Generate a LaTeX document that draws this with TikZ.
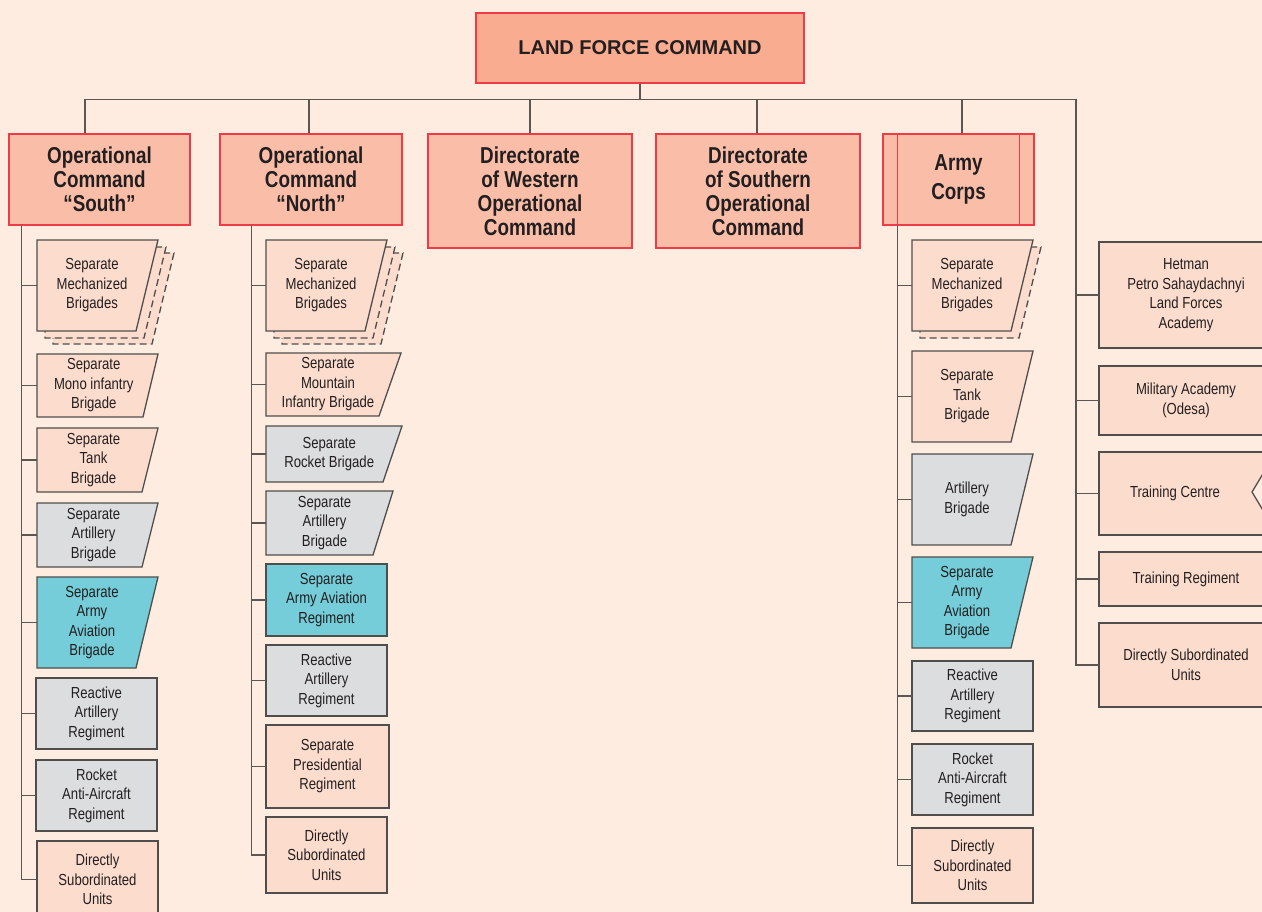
\documentclass[tikz,border=0pt]{standalone}
\usepackage{fontspec}
\setmainfont{Liberation Sans}[FakeStretch=0.82]
\newfontfamily\titlefont{Liberation Sans}
\usepackage{tikz}
\usetikzlibrary{arrows.meta,positioning}
\usepackage{xcolor}
\definecolor{PaperBg}{RGB}{253,236,223}
\definecolor{TopFill}{RGB}{249,172,144}
\definecolor{CmdFill}{RGB}{250,190,168}
\definecolor{CmdRed}{RGB}{238,59,69}
\definecolor{PinkFill}{RGB}{252,220,205}
\definecolor{GreyFill}{RGB}{220,221,223}
\definecolor{CyanFill}{RGB}{116,205,216}
\definecolor{BoxLine}{RGB}{80,78,76}
\definecolor{LinkGrey}{RGB}{90,86,82}
\definecolor{InkGrey}{RGB}{35,31,32}

% unit box: name, fill, left x, top y, top-right x, bottom y, bottom-right x, text
\newcommand\unitbox[8]{%
  \filldraw[unit,fill=#2] (#3,#4) -- (#5,#4) -- (#7,#6) -- (#3,#6) -- cycle;
  \node[txt,minimum width={(#5+#7)/2-#3},minimum height={#6-#4}] (#1) at ({(#3+(#5+#7)/2)/2},{(#4+#6)/2}) {#8};}

\begin{document}
\begin{tikzpicture}[x=1pt,y=-1pt,cmd/.style={rectangle,draw=CmdRed,line width=1.3pt,fill=CmdFill,text=InkGrey,align=center,inner sep=0pt,font=\bfseries\fontsize{23}{24}\selectfont},unit/.style={draw=BoxLine,line width=1.3pt},txt/.style={rectangle,inner sep=0pt,align=center,text=InkGrey,font=\fontsize{16}{19.5}\selectfont},link/.style={draw=LinkGrey,line width=1.2pt},stack/.style={unit,dash pattern=on 7pt off 4pt,fill=PinkFill}]
\useasboundingbox (0,0) rectangle (1262,912);
\clip (0,0) rectangle (1262,912);
\fill[PaperBg] (0,0) rectangle (1262,912);

% command level
\node[cmd,fill=TopFill,minimum width=328,minimum height=70,font=\titlefont\bfseries\fontsize{20}{24}\selectfont](lfc) at (640,48){LAND FORCE COMMAND};
\node[cmd,minimum width=181,minimum height=91](os) at (99.5,179.5){Operational\\Command\\“South”};
\node[cmd,minimum width=182,minimum height=91](on) at (311,179.5){Operational\\Command\\“North”};
\node[cmd,minimum width=204,minimum height=114](dw) at (530,191){Directorate\\of Western\\Operational\\Command};
\node[cmd,minimum width=204,minimum height=114](ds) at (758,191){Directorate\\of Southern\\Operational\\Command};
\node[cmd,minimum width=151,minimum height=91,font=\bfseries\fontsize{23}{29}\selectfont](ac) at (958.5,179.5){Army\\Corps};
\draw[CmdRed,line width=1.3pt]([xshift=15]ac.north west)--([xshift=15]ac.south west)([xshift=-15]ac.north east)--([xshift=-15]ac.south east);

\coordinate (rt) at (1076,99);
\draw[link](lfc.south)--++(0,16)-|(rt);
\foreach \n/\s in {os/-14.5,on/-2,dw/0,ds/-1,ac/3.5}{\draw[link](lfc.south)--++(0,16)-|([xshift=\s]\n.north);}

% operational command south
\foreach \d/\e in {16/13,8/7}{\filldraw[stack,shift={(\d,\e)}](37,240)--(158,240)--(136,331)--(37,331)--cycle;}
\unitbox{s1}{PinkFill}{37}{240}{158}{331}{136}{Separate\\Mechanized\\Brigades}
\unitbox{s2}{PinkFill}{37}{354}{158}{417}{143}{Separate\\Mono infantry\\Brigade}
\unitbox{s3}{PinkFill}{37}{428}{158}{492}{142}{Separate\\Tank\\Brigade}
\unitbox{s4}{GreyFill}{37}{503}{158}{567}{142}{Separate\\Artillery\\Brigade}
\unitbox{s5}{CyanFill}{37}{577}{158}{668}{136}{Separate\\Army\\Aviation\\Brigade}
\unitbox{s6}{GreyFill}{36}{678}{157}{749}{157}{Reactive\\Artillery\\Regiment}
\unitbox{s7}{GreyFill}{36}{760}{157}{831}{157}{Rocket\\Anti-Aircraft\\Regiment}
\unitbox{s8}{PinkFill}{37}{841}{158}{918}{158}{Directly\\Subordinated\\Units}
\foreach \n in {s1,s2,s3,s4,s5,s6,s7,s8}{\draw[link]([xshift=13]os.south west)|-(\n.west);}

% operational command north
\foreach \d/\e in {16/13,8/7}{\filldraw[stack,shift={(\d,\e)}](266,240)--(387,240)--(365,331)--(266,331)--cycle;}
\unitbox{n1}{PinkFill}{266}{240}{387}{331}{365}{Separate\\Mechanized\\Brigades}
\unitbox{n2}{PinkFill}{266}{353}{401}{416}{379}{Separate\\Mountain\\Infantry Brigade}
\unitbox{n3}{GreyFill}{266}{426}{402}{482}{383}{Separate\\Rocket Brigade}
\unitbox{n4}{GreyFill}{266}{491}{393}{555}{373}{Separate\\Artillery\\Brigade}
\unitbox{n5}{CyanFill}{266}{564}{387}{636}{387}{Separate\\Army Aviation\\Regiment}
\unitbox{n6}{GreyFill}{266}{645}{387}{716}{387}{Reactive\\Artillery\\Regiment}
\unitbox{n7}{PinkFill}{266}{725}{389}{808}{389}{Separate\\Presidential\\Regiment}
\unitbox{n8}{PinkFill}{266}{817}{387}{893}{387}{Directly\\Subordinated\\Units}
\foreach \n in {n1,n2,n3,n4,n5,n6,n7,n8}{\draw[link]([xshift=32]on.south west)|-(\n.west);}

% army corps
\filldraw[stack,shift={(8,7)}](912,240)--(1033,240)--(1011,331)--(912,331)--cycle;
\unitbox{c1}{PinkFill}{912}{240}{1033}{331}{1011}{Separate\\Mechanized\\Brigades}
\unitbox{c2}{PinkFill}{912}{351}{1033}{442}{1011}{Separate\\Tank\\Brigade}
\unitbox{c3}{GreyFill}{912}{454}{1033}{545}{1011}{Artillery\\Brigade}
\unitbox{c4}{CyanFill}{912}{557}{1033}{648}{1011}{Separate\\Army\\Aviation\\Brigade}
\unitbox{c5}{GreyFill}{912}{661}{1033}{731}{1033}{Reactive\\Artillery\\Regiment}
\unitbox{c6}{GreyFill}{912}{744}{1033}{815}{1033}{Rocket\\Anti-Aircraft\\Regiment}
\unitbox{c7}{PinkFill}{912}{828}{1033}{903}{1033}{Directly\\Subordinated\\Units}
\foreach \n in {c1,c2,c3,c4,c5,c6,c7}{\draw[link]([xshift=15]ac.south west)|-(\n.west);}

% directly under land force command
\unitbox{hetman}{PinkFill}{1099}{242}{1273}{348}{1273}{Hetman\\Petro Sahaydachnyi\\Land Forces\\Academy}
\unitbox{odesa}{PinkFill}{1099}{366}{1273}{435}{1273}{Military Academy\\(Odesa)}
\filldraw[unit,fill=PinkFill](1099,452)--(1275,452)--(1275,535)--(1099,535)--cycle;
\filldraw[unit,fill=PaperBg](1264,472)--(1252,492)--(1264,512);
\node[txt,minimum width=152,minimum height=83](trc) at (1175,493.5){Training Centre};
\unitbox{trr}{PinkFill}{1099}{552}{1273}{606}{1273}{Training Regiment}
\unitbox{dsr}{PinkFill}{1099}{623}{1273}{707}{1273}{Directly Subordinated\\Units}
\foreach \n in {hetman,odesa,trc,trr,dsr}{\draw[link](rt)|-(\n.west);}
\end{tikzpicture}
\end{document}
